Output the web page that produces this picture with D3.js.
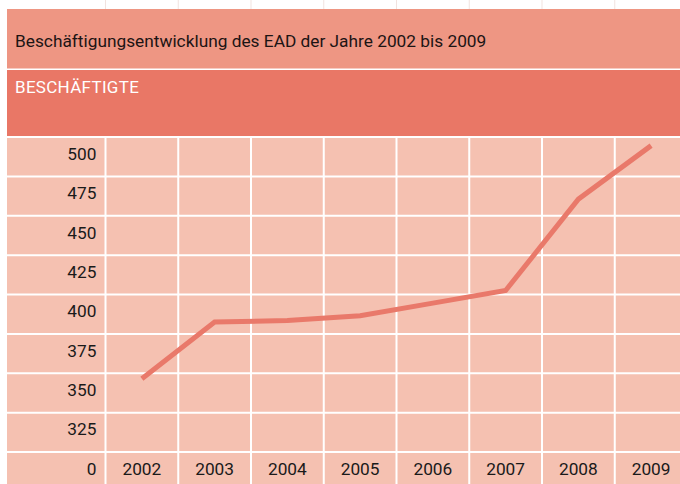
<!DOCTYPE html>
<html><head><meta charset="utf-8">
<script src="https://cdn.jsdelivr.net/npm/d3@7"></script>
<style>
html,body{margin:0;padding:0;background:#fff;}
svg{display:block;}
text{font-family:Roboto,"Liberation Sans",sans-serif;}
</style></head>
<body>
<svg id="chart" width="680" height="484"></svg>
<script>
const title = "Beschäftigungsentwicklung des EAD der Jahre 2002 bis 2009";
const seriesName = "BESCHÄFTIGTE";
const years = ["2002","2003","2004","2005","2006","2007","2008","2009"];
const employees = [357, 393, 394, 397, 405, 413, 471, 505];
const rowLabels = ["500","475","450","425","400","375","350","325","0"];

const svg = d3.select("#chart");
const W = 680, H = 484;
const left = 7;
const colStart = 105.5, colW = 72.75;
const gridTop = 137, rowH = 39.375;

const x = d3.scaleBand().domain(years).range([colStart, colStart + colW * years.length]).padding(0);
const rowY = d3.scaleBand().domain(rowLabels).range([gridTop, gridTop + rowH * rowLabels.length]).padding(0);
// value scale: label centres of 500 and 325 rows
const y = d3.scaleLinear().domain([325, 500])
  .range([rowY("325") + 16.5, rowY("500") + 16.5]);

// faint guides above the title
svg.append("g").selectAll("line").data(years).join("line")
  .attr("x1", d => x(d)).attr("x2", d => x(d))
  .attr("y1", 0).attr("y2", 9)
  .attr("stroke", "#f1e3df").attr("stroke-width", 1);

// title band
svg.append("rect").attr("x", left).attr("y", 9).attr("width", W - left).attr("height", 59.5).attr("fill", "#ee9683");
svg.append("text").attr("x", 15).attr("y", 46.5).attr("font-size", 17.3).attr("fill", "#1c1414").text(title);

// series band
svg.append("rect").attr("x", left).attr("y", 70).attr("width", W - left).attr("height", 66).attr("fill", "#e97766");
svg.append("text").attr("x", 15).attr("y", 93).attr("font-size", 17).attr("letter-spacing", 0.3).attr("fill", "#ffffff").text(seriesName);

// grid cells
svg.append("rect").attr("x", left).attr("y", gridTop).attr("width", W - left).attr("height", H - gridTop).attr("fill", "#f5c1b1");

// vertical grid lines
svg.append("g").selectAll("line").data(years).join("line")
  .attr("x1", d => x(d)).attr("x2", d => x(d))
  .attr("y1", gridTop).attr("y2", H)
  .attr("stroke", "#ffffff").attr("stroke-width", 2);

// horizontal grid lines
svg.append("g").selectAll("line").data(rowLabels).join("line")
  .attr("x1", left).attr("x2", W)
  .attr("y1", d => rowY(d)).attr("y2", d => rowY(d))
  .attr("stroke", "#ffffff").attr("stroke-width", 2);

// row labels
svg.append("g").selectAll("text").data(rowLabels).join("text")
  .attr("x", 96.5).attr("y", d => rowY(d) + 22.8)
  .attr("text-anchor", "end").attr("font-size", 17.3).attr("fill", "#1a1a1a")
  .text(d => d);

// year labels in bottom row
svg.append("g").selectAll("text").data(years).join("text")
  .attr("x", d => x(d) + x.bandwidth() / 2).attr("y", rowY("0") + 22.8)
  .attr("text-anchor", "middle").attr("font-size", 17.3).attr("fill", "#1a1a1a")
  .text(d => d);

// line
const data = years.map((yr, i) => ({year: yr, value: employees[i]}));
const line = d3.line().x(d => x(d.year) + x.bandwidth() / 2).y(d => y(d.value));
svg.append("path").datum(data).attr("d", line)
  .attr("fill", "none").attr("stroke", "#e9796a").attr("stroke-width", 5)
  .attr("stroke-linejoin", "miter").attr("stroke-linecap", "butt");
</script>
</body></html>
